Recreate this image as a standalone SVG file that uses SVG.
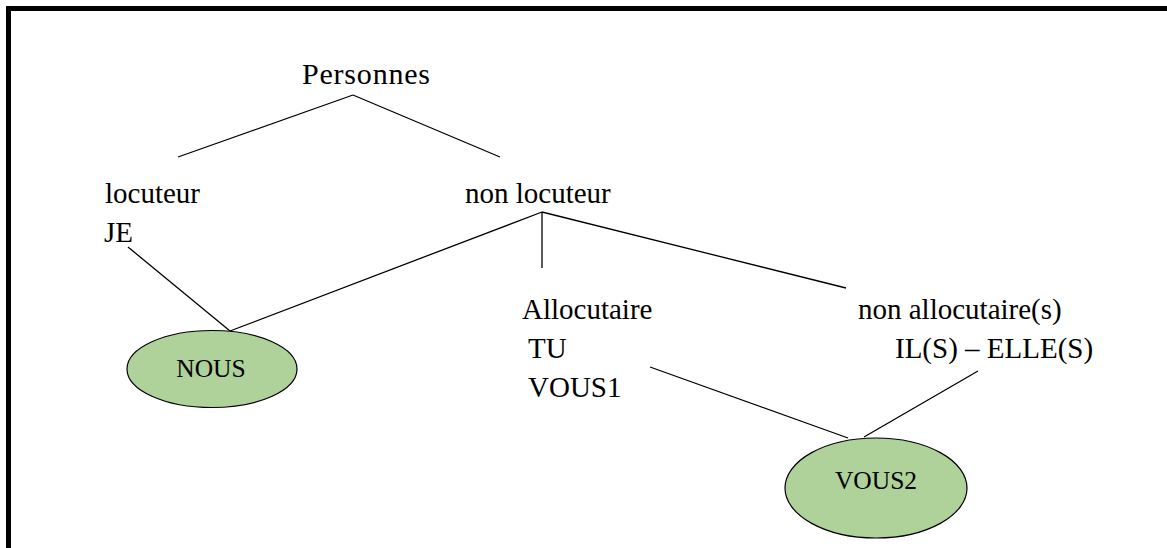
<svg xmlns="http://www.w3.org/2000/svg" width="1167" height="548" viewBox="0 0 1167 548">
<style>
text{font-family:'Liberation Serif','Times New Roman','DejaVu Serif',serif}
.t{font-size:29px;fill:#000}
.e{font-size:25.5px;fill:#000;text-anchor:middle}
.c line{stroke:#000;stroke-width:1.3}
.el{fill:#aed29a;stroke:#000;stroke-width:1.2}
</style>
<rect x="8.5" y="8.5" width="1175" height="570" fill="#fff" stroke="#000" stroke-width="5"/>
<g id="connectors" class="c">
<line x1="178" y1="157" x2="353" y2="95"/>
<line x1="353" y1="95" x2="500" y2="157"/>
<line x1="128" y1="247" x2="230" y2="331"/>
<line x1="230" y1="331" x2="542" y2="212"/>
<line x1="542" y1="212" x2="542" y2="268"/>
<line x1="542" y1="212" x2="846" y2="288"/>
<line x1="650" y1="367" x2="848" y2="438"/>
<line x1="978" y1="371" x2="864" y2="437"/>
</g>
<g id="personnes"><text class="t" x="302" y="84" style="font-size:30px" textLength="128">Personnes</text></g>
<g id="locuteur"><text class="t" x="105" y="203">locuteur</text><text class="t" x="104" y="242">JE</text></g>
<g id="non-locuteur"><text class="t" x="465" y="203">non locuteur</text></g>
<g id="allocutaire"><text class="t" x="522" y="319">Allocutaire</text><text class="t" x="528" y="358">TU</text><text class="t" x="528" y="397">VOUS1</text></g>
<g id="non-allocutaire"><text class="t" x="858" y="319">non allocutaire(s)</text><text class="t" x="895" y="358">IL(S) – ELLE(S)</text></g>
<g id="nous"><ellipse class="el" cx="212" cy="369" rx="85" ry="38.5"/><text class="e" x="211" y="377">NOUS</text></g>
<g id="vous2"><ellipse class="el" cx="876" cy="488" rx="91" ry="50"/><text class="e" x="876" y="489">VOUS2</text></g>
</svg>
